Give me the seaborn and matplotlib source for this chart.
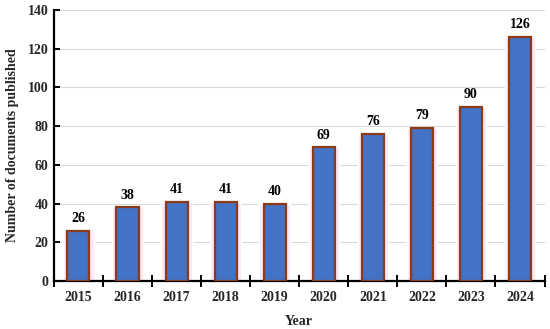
import matplotlib
matplotlib.use("Agg")
import matplotlib.pyplot as plt
import seaborn as sns
import pandas as pd

years = ["2015", "2016", "2017", "2018", "2019", "2020", "2021", "2022", "2023", "2024"]
counts = [26, 38, 41, 41, 40, 69, 76, 79, 90, 126]
y_ticks = [0, 20, 40, 60, 80, 100, 120, 140]

sns.set_theme(style="white")
plt.rcParams['font.family'] = ['Liberation Serif', 'DejaVu Serif']
plt.rcParams['font.weight'] = 'bold'

df = pd.DataFrame({"Year": years, "Count": counts})

fig, ax = plt.subplots(figsize=(5.5, 3.29), dpi=100)
fig.subplots_adjust(left=0.098, right=0.99, top=0.97, bottom=0.146)

# soft pink halo behind bars
sns.barplot(data=df, x="Year", y="Count", color="#fde6f6", width=0.62,
            saturation=1, ax=ax, zorder=2)
sns.barplot(data=df, x="Year", y="Count", color="#4472c4", width=0.45,
            saturation=1, edgecolor="#8b3a1a", linewidth=1.6, ax=ax, zorder=3)

for c in ax.containers[1:]:
    ax.bar_label(c, labels=[str(v) for v in counts], padding=4,
                 fontsize=10, fontweight="bold", color="black")

ax.set_ylim(0, 140)
ax.set_yticks(y_ticks)
ax.set_xlim(-0.5, len(years) - 0.5)
ax.yaxis.grid(True, color="#d9d9d9", linewidth=0.8, zorder=0)
ax.set_axisbelow(True)

for s in ["top", "right"]:
    ax.spines[s].set_visible(False)
for s in ["left", "bottom"]:
    ax.spines[s].set_color("black")
    ax.spines[s].set_linewidth(1.6)

# x ticks at category boundaries
ax.set_xticks([i - 0.5 for i in range(len(years) + 1)], minor=True)
ax.tick_params(axis="x", which="minor", direction="inout", length=8, width=1.4, color="black", bottom=True)
ax.tick_params(axis="x", which="major", length=0, labelsize=10, pad=7)
ax.tick_params(axis="y", direction="in", length=4, width=1.4, color="black", left=True, labelsize=10, pad=4)

for lbl in ax.get_xticklabels() + ax.get_yticklabels():
    lbl.set_fontweight("bold")

ax.set_xlabel("Year", fontsize=10, fontweight="bold", labelpad=8)
ax.set_ylabel("Number of documents published", fontsize=10, fontweight="bold", labelpad=6)

fig.savefig("out.png", dpi=100)
